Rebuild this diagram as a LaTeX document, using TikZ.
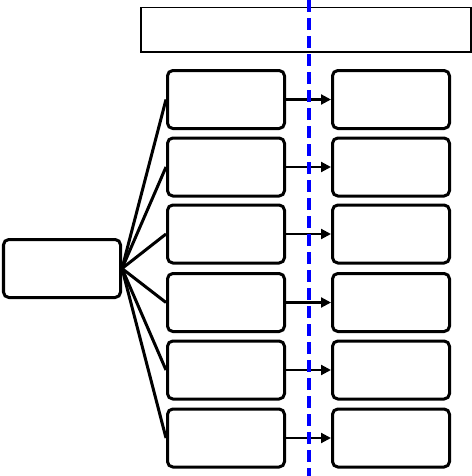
\documentclass[tikz,border=0pt]{standalone}
\usetikzlibrary{arrows.meta}
\begin{document}
\begin{tikzpicture}[x=0.75pt,y=-0.75pt,
  box/.style={draw=black,line width=2.25pt,rounded corners=4pt,fill=white,
    minimum width=87.75pt,minimum height=43.5pt,inner sep=0pt},
  link/.style={line width=2.25pt,black},
  arr/.style={line width=1.6pt,black,-{Triangle[length=7.5pt,width=7.5pt]}},
  divider/.style={draw=blue,line width=2.6pt,dash pattern=on 9pt off 4.5pt}]
\useasboundingbox (0,0) rectangle (472,476);
\node[draw=black,line width=1.1pt,minimum width=247.5pt,minimum height=33.5pt,inner sep=0pt] (title) at (306,29.8) {};
\node[box] (L) at (62,268.5) {};
\foreach \i/\y in {1/99.5,2/167,3/234,4/302.5,5/370,6/438}{
  \node[box] (M\i) at (226,\y) {};
  \node[box] (R\i) at (391,\y) {};
}
\foreach \i in {1,...,6}{
  \draw[link] (L.east) -- (M\i.west);
  \draw[arr] (M\i.east) -- (R\i.west);
}
\coordinate (dtop) at (309,0);
\coordinate (dbot) at (309,476);
\draw[divider] (dtop) -- (dbot);
\end{tikzpicture}
\end{document}
